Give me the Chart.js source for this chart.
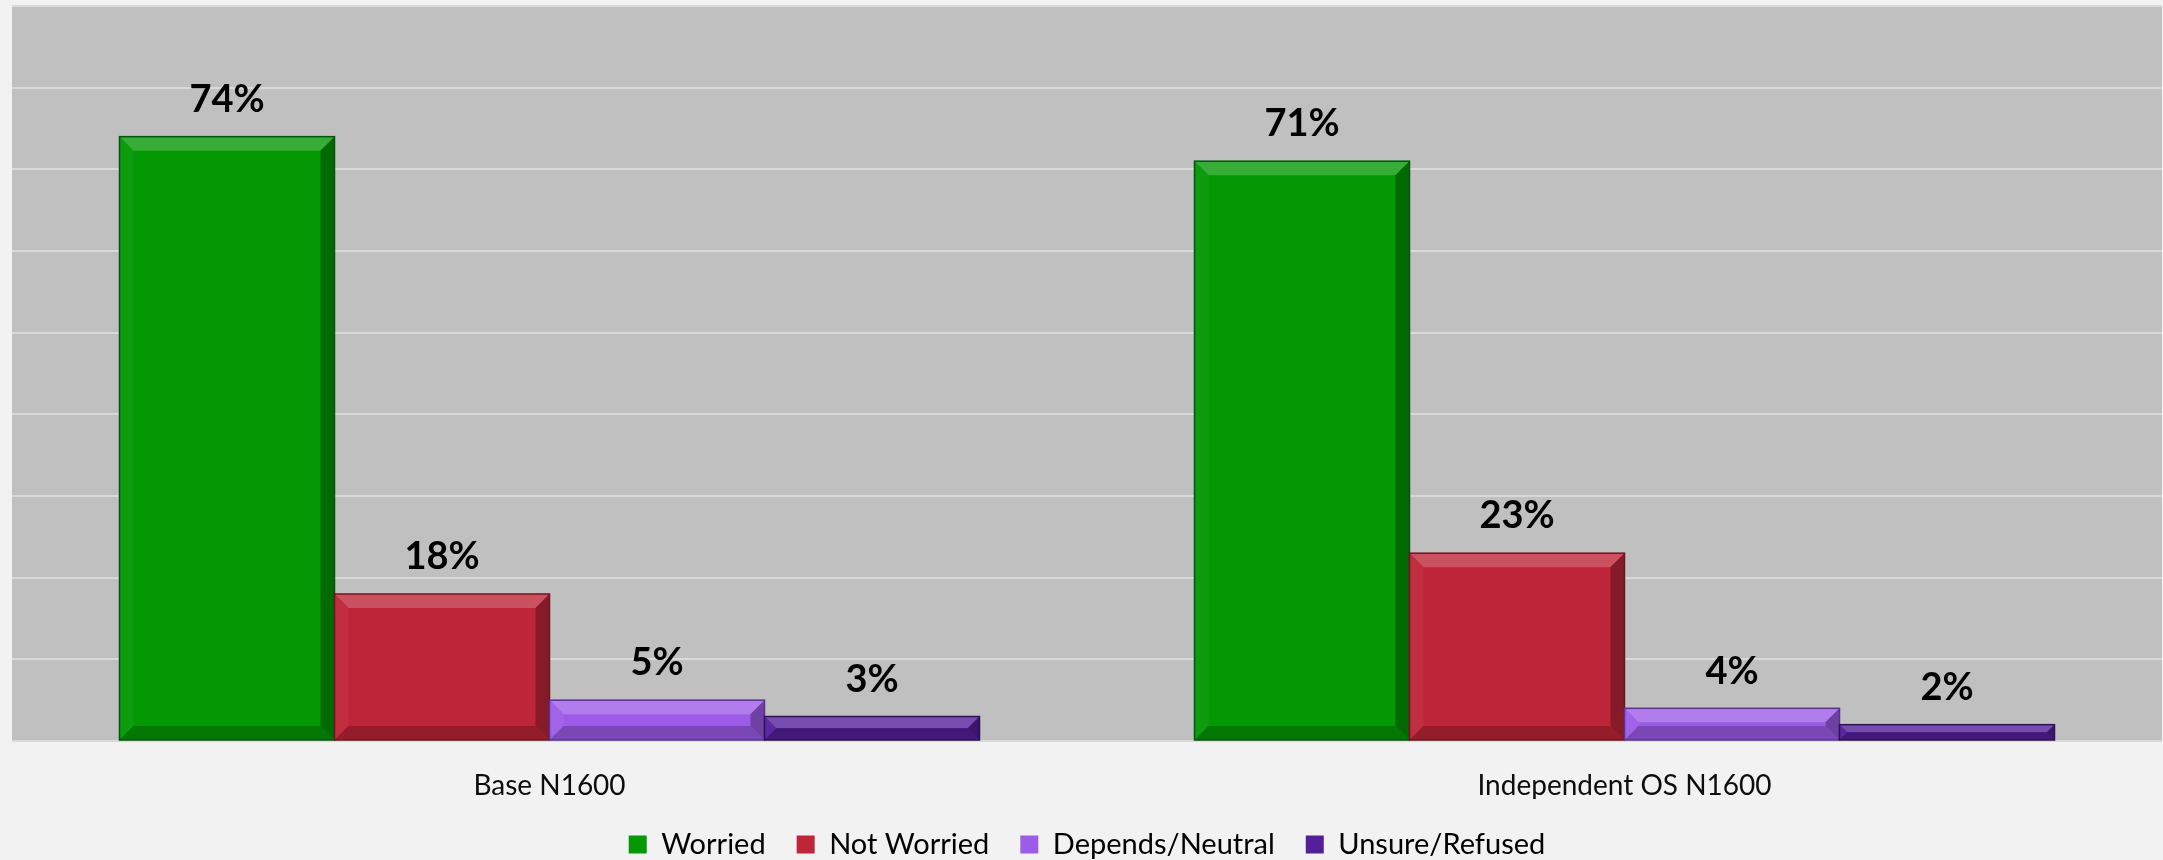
<!DOCTYPE html>
<html>
<head>
<meta charset="utf-8">
<script src="https://cdn.jsdelivr.net/npm/chart.js@4"></script>
<style>
  html, body { margin: 0; padding: 0; background: #f2f2f2; }
  #wrap { width: 2163px; height: 860px; }
</style>
</head>
<body>
<div id="wrap"><canvas id="chartWorry" width="2163" height="860"></canvas></div>
<script>
var categories = ["Base N1600", "Independent OS N1600"];
var seriesNames = ["Worried", "Not Worried", "Depends/Neutral", "Unsure/Refused"];
var worried = [74, 71];
var notWorried = [18, 23];
var dependsNeutral = [5, 4];
var unsureRefused = [3, 2];
var seriesColors = ["#049804", "#be2539", "#9d5ce8", "#54209a"];
var seriesEdges = ["#02550a", "#6e1420", "#5a3090", "#2e0f5a"];

function shade(hex, amt){
    var n = parseInt(hex.slice(1), 16);
    var r = (n >> 16) & 255, g = (n >> 8) & 255, b = n & 255;
    function f(c){ return amt >= 0 ? Math.round(c + (255 - c) * amt) : Math.round(c * (1 + amt)); }
    return "rgb(" + f(r) + "," + f(g) + "," + f(b) + ")";
}

// grey plot area behind the bars
var plotBg = {
    id: "plotBg",
    beforeDraw: function(chart){
        var a = chart.chartArea, c = chart.ctx;
        c.save();
        c.fillStyle = "#c0c0c0";
        c.fillRect(a.left, a.top, a.right - a.left, a.bottom - a.top);
        c.restore();
    }
};

// bevel edges + value labels
var bevelLabels = {
    id: "bevelLabels",
    afterDatasetsDraw: function(chart){
        var c = chart.ctx;
        chart.data.datasets.forEach(function(ds, di){
            var meta = chart.getDatasetMeta(di);
            meta.data.forEach(function(bar, i){
                var l = bar.x - bar.width / 2, r = bar.x + bar.width / 2;
                var t = bar.y, b = bar.base;
                var h = b - t;
                var bv = Math.min(14, h / 2);
                var base = seriesColors[di];
                c.save();
                // top
                c.fillStyle = shade(base, 0.2);
                c.beginPath(); c.moveTo(l, t); c.lineTo(r, t); c.lineTo(r - bv, t + bv); c.lineTo(l + bv, t + bv); c.closePath(); c.fill();
                // left
                c.fillStyle = shade(base, 0.04);
                c.beginPath(); c.moveTo(l, t); c.lineTo(l + bv, t + bv); c.lineTo(l + bv, b - bv); c.lineTo(l, b); c.closePath(); c.fill();
                // right
                c.fillStyle = shade(base, -0.3);
                c.beginPath(); c.moveTo(r, t); c.lineTo(r, b); c.lineTo(r - bv, b - bv); c.lineTo(r - bv, t + bv); c.closePath(); c.fill();
                // bottom
                c.fillStyle = shade(base, -0.22);
                c.beginPath(); c.moveTo(l, b); c.lineTo(r, b); c.lineTo(r - bv, b - bv); c.lineTo(l + bv, b - bv); c.closePath(); c.fill();
                c.strokeStyle = seriesEdges[di];
                c.lineWidth = 1.5;
                c.strokeRect(l, t, r - l, h);
                // label
                c.fillStyle = "#000";
                c.font = "bold 38px Lato";
                c.textAlign = "center";
                c.textBaseline = "middle";
                c.fillText(ds.data[i] + "%", bar.x, t - 37);
                c.restore();
            });
        });
    }
};

var allSeries = [worried, notWorried, dependsNeutral, unsureRefused];
var worryData = {
    labels: categories,
    datasets: allSeries.map(function(vals, k){
        return {
            label: seriesNames[k],
            data: vals,
            backgroundColor: seriesColors[k],
            borderColor: seriesEdges[k],
            borderWidth: 0,
            categoryPercentage: 0.8,
            barPercentage: 1.0
        };
    })
};

new Chart(document.getElementById("chartWorry").getContext("2d"), {
    type: "bar",
    data: worryData,
    options: {
        responsive: false,
        animation: false,
        layout: { padding: { left: 12, right: 1, top: 6, bottom: 0 } },
        plugins: {
            tooltip: { enabled: false },
            legend: {
                position: "bottom",
                maxHeight: 61,
                labels: {
                    font: { family: "Lato", size: 29 },
                    color: "#000",
                    boxWidth: 18,
                    boxHeight: 18,
                    padding: 31
                }
            }
        },
        scales: {
            x: {
                grid: { display: false, drawTicks: false },
                border: { display: false },
                ticks: { font: { family: "Lato", size: 28 }, color: "#0d0d0d", padding: 28 },
                afterFit: function(scale){ scale.height = 58; }
            },
            y: {
                min: 0,
                max: 90,
                ticks: { stepSize: 10, display: false },
                grid: { color: "#d9d9d9", lineWidth: 2, drawTicks: false },
                border: { display: false }
            }
        }
    },
    plugins: [plotBg, bevelLabels]
});
</script>
</body>
</html>
